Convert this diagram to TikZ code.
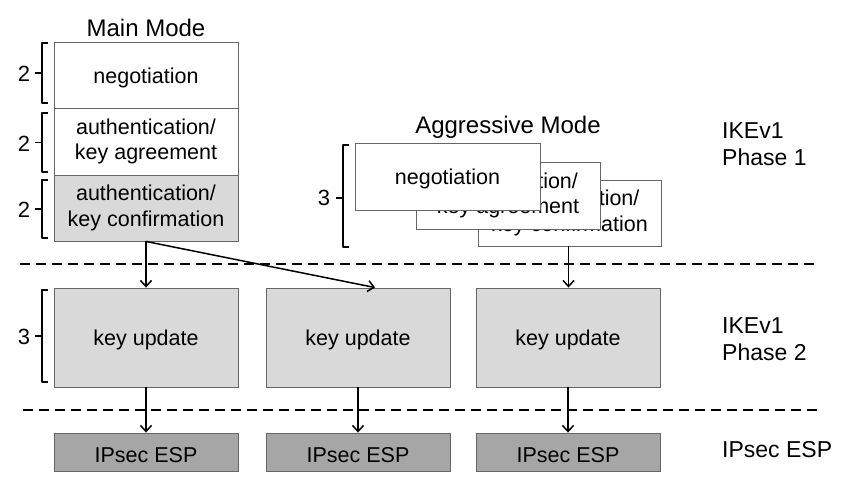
\documentclass[tikz,border=0pt]{standalone}
\usepackage{fontspec}
\setmainfont{Liberation Sans}
\usetikzlibrary{arrows.meta}

\begin{document}
\begin{tikzpicture}[x=1pt, y=-1pt,
    box/.style={draw=black!60, line width=0.9pt, fill=white, minimum width=184pt,
        inner sep=0pt, align=center, font=\fontsize{21.5}{25.5}\selectfont,
        execute at begin node={\rule{0pt}{21pt}}},
    light/.style={box, fill=black!15},
    dark/.style={box, fill=black!35},
    link/.style={line width=1.5pt, -{Straight Barb[length=6pt, width=11pt, line width=1.5pt]}},
    sep/.style={line width=1.7pt, dash pattern=on 10pt off 6pt},
    brace/.style={line width=1.5pt, line join=round},
    num/.style={font=\fontsize{22}{26}\selectfont, inner sep=0pt},
    head/.style={font=\fontsize{24}{28}\selectfont, inner sep=0pt},
    lbl/.style={font=\fontsize{23}{27.5}\selectfont, align=left, anchor=west, inner sep=0pt}]
  \useasboundingbox (0,0) rectangle (858,490);

  % Draw main mode
  \node[head] (mm) at (146,28) {Main Mode};
  \node[box, minimum height=66pt] (m1) at (146,75) {negotiation};
  \node[box, minimum height=67pt] (m2) at (146,141.5) {authentication/\\key agreement};
  \node[light, minimum height=66pt] (m3) at (146,208) {authentication/\\key confirmation};

  % Draw aggressive mode
  \node[head] (am) at (508,127) {Aggressive Mode};
  \node[box, minimum width=183pt, minimum height=66pt] (a3) at (569.5,213) {authentication/\\key confirmation};
  \node[box, minimum width=184pt, minimum height=67pt] (a2) at (508,195.5) {authentication/\\key agreement};
  \node[box, minimum width=185pt, minimum height=67pt] (a1) at (447.5,176.5) {negotiation};

  % Draw phase separators
  \draw[sep] (20,264) -- (820,264);
  \draw[sep] (23,410) -- (822,410);

  % Draw key updates and ESP
  \foreach \x/\n in {146/1, 358/2, 568/3} {
    \node[light, minimum height=99pt] (k\n) at (\x,337.5) {key update};
    \node[dark, minimum height=38pt] (e\n) at (\x,452) {IPsec ESP};
    \draw[link] (k\n) -- (e\n);
  }

  % Draw arrows into phase 2
  \draw[link] (m3.south) -- (k1.north);
  \draw[link] (m3.south) -- ([xshift=17pt]k2.north);
  \draw[link] ([xshift=-1pt]a3.south) -- ([xshift=-1pt]a3.south |- k3.north);

  % Draw braces with round counts
  \foreach \t/\b/\n/\i in {43/103/2/1, 113/172/2/2, 180/238/2/3, 290/382/3/4} {
    \draw[brace] (48,\t) -- (42,\t) -- (42,\b) -- (48,\b);
    \draw[brace] (42,{(\t+\b)/2}) -- (35,{(\t+\b)/2});
    \node[num] (c\i) at (24,{(\t+\b)/2+1}) {\n};
  }
  \draw[brace] (349,145) -- (343,145) -- (343,247) -- (349,247);
  \draw[brace] (343,198) -- (336,198);
  \node[num] (c5) at (324,198) {3};

  % Draw phase labels
  \node[lbl] (p1) at (722,144) {IKEv1\\Phase 1};
  \node[lbl] (p2) at (722,339) {IKEv1\\Phase 2};
  \node[lbl] (p3) at (722,450) {IPsec ESP};
\end{tikzpicture}
\end{document}
